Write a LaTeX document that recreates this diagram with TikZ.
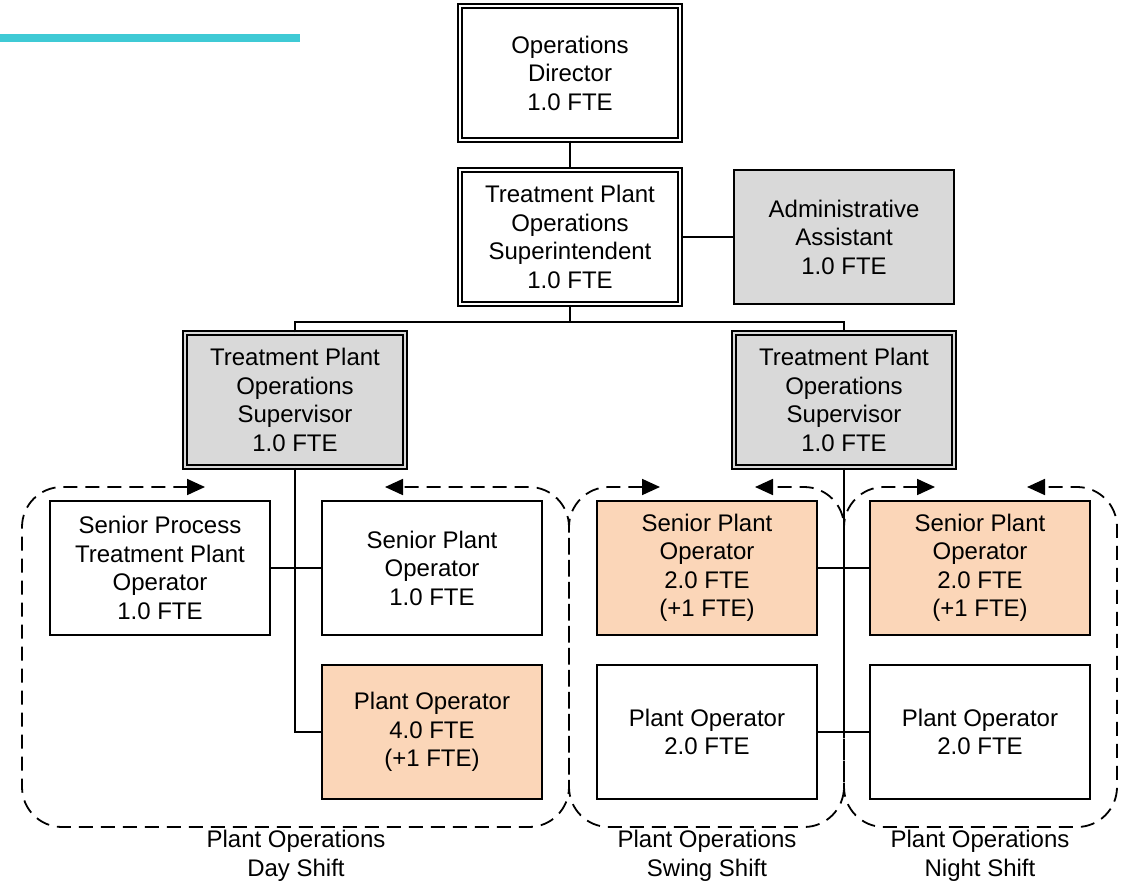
\documentclass[tikz,border=0pt]{standalone}
\usepackage{fontspec}
\setmainfont{Liberation Sans}
\usetikzlibrary{arrows.meta,positioning}
\definecolor{accent}{HTML}{3FCAD5}
\definecolor{staff}{HTML}{D9D9D9}
\definecolor{added}{HTML}{FBD6B8}

\begin{document}
\begin{tikzpicture}[x=1pt,y=-1pt,
  role/.style={draw,line width=2pt,fill=white,minimum width=220pt,minimum height=134pt,
    inner sep=0pt,align=center,font=\fontsize{24}{28.5}\selectfont},
  lead/.style={role,double,double distance=2.8pt,line width=1.5pt},
  wire/.style={line width=2pt},
  crew/.style={line width=1.8pt,dash pattern=on 14pt off 8pt,rounded corners=40pt,
    {Triangle[length=18pt,width=16pt]}-{Triangle[length=18pt,width=16pt]}},
  crewname/.style={align=center,font=\fontsize{24}{28.5}\selectfont}]
  \useasboundingbox (0,0) rectangle (1123,885);

  % accent bar
  \draw[accent,line width=8pt] (0,38) -- (300,38);

  % Top
  \node[lead] (dir) at (570,73) {Operations\\Director\\1.0 FTE};
  \node[lead] (supt) at (570,237) {Treatment Plant\\Operations\\Superintendent\\1.0 FTE};
  \node[role,fill=staff] (admin) at (844,237) {Administrative\\Assistant\\1.0 FTE};
  \coordinate (bar) at (570,322);

  % Supervisors
  \node[lead,fill=staff,double=staff] (supL) at (295,400) {Treatment Plant\\Operations\\Supervisor\\1.0 FTE};
  \node[lead,fill=staff,double=staff] (supR) at (844,400) {Treatment Plant\\Operations\\Supervisor\\1.0 FTE};

  % Day shift
  \node[role] (sptpo) at (160,568) {Senior Process\\Treatment Plant\\Operator\\1.0 FTE};
  \node[role] (spoD) at (432,568) {Senior Plant\\Operator\\1.0 FTE};
  \node[role,fill=added] (poD) at (432,732) {Plant Operator\\4.0 FTE\\(+1 FTE)};

  % Swing shift
  \node[role,fill=added] (spoS) at (707,568) {Senior Plant\\Operator\\2.0 FTE\\(+1 FTE)};
  \node[role] (poS) at (707,732) {Plant Operator\\2.0 FTE};

  % Night shift
  \node[role,fill=added] (spoN) at (980,568) {Senior Plant\\Operator\\2.0 FTE\\(+1 FTE)};
  \node[role] (poN) at (980,732) {Plant Operator\\2.0 FTE};

  % Reporting lines
  \draw[wire] (dir) -- (supt);
  \draw[wire] (supt) -- (admin);
  \draw[wire] (supt) -- (bar);
  \draw[wire] (supL.north) |- (bar) -| (supR.north);
  \draw[wire] (supL.south) |- (poD.west);
  \draw[wire] (sptpo) -- (spoD);
  \draw[wire] (supR.south) -- (supR.south |- poS.east);
  \draw[wire] (spoS) -- (spoN);
  \draw[wire] (poS) -- (poN);

  % Shift groups
  \draw[crew] (205,487) -- (22,487) -- (22,827) -- (569,827) -- (569,487) -- (385,487);
  \draw[crew] (660,487) -- (569,487) -- (569,827) -- (844,827) -- (844,487) -- (755,487);
  \draw[crew] (935,487) -- (844,487) -- (844,827) -- (1117,827) -- (1117,487) -- (1027,487);
  \node[crewname] (dayLbl) at (296,856) {Plant Operations\\Day Shift};
  \node[crewname] (swingLbl) at (707,856) {Plant Operations\\Swing Shift};
  \node[crewname] (nightLbl) at (980,856) {Plant Operations\\Night Shift};
\end{tikzpicture}
\end{document}
